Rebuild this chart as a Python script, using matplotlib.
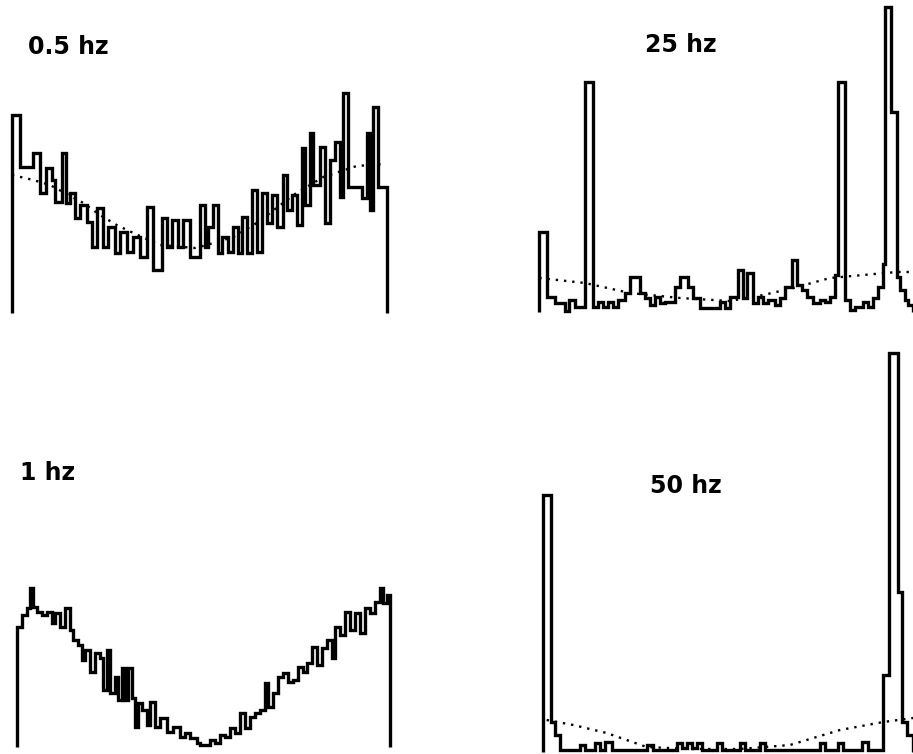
import numpy as np
import matplotlib
matplotlib.use("Agg")
from matplotlib import pyplot as plt

# bin edges (channel) and counts
edges_05 = [36, 60, 100, 120, 138, 155, 165, 185, 198, 210, 225, 240, 260, 275, 290, 310, 325,
            345, 360, 380, 400, 420, 440, 460, 485, 500, 515, 535, 550, 570, 600, 615, 625, 640,
            655, 665, 685, 700, 715, 725, 740, 755, 770, 785, 800, 815, 830, 850, 860, 875, 890,
            905, 915, 930, 940, 960, 975, 990, 1005, 1020, 1030, 1045, 1085, 1100, 1110, 1120,
            1135, 1160]
counts_05 = [198, 146, 160, 120, 145, 133, 111, 160, 110, 120, 95, 108, 91, 66, 105, 66, 86, 60,
             81, 61, 76, 56, 106, 43, 95, 66, 93, 66, 93, 56, 108, 66, 86, 108, 60, 76, 61, 86,
             60, 96, 60, 123, 61, 120, 90, 118, 86, 138, 103, 118, 88, 165, 108, 180, 128, 166,
             90, 153, 171, 116, 220, 126, 115, 180, 103, 206, 126]
fit_x_05 = [36, 100, 150, 250, 300, 350, 400, 480, 585, 620, 700, 775, 880, 970, 1070, 1155]
fit_y_05 = [138, 133, 128, 110, 98, 88, 80, 68, 65, 68, 76, 91, 118, 136, 147, 149]

edges_25 = [28, 50, 75, 105, 118, 135, 165, 190, 205, 220, 235, 250, 265, 285, 300, 330, 345,
            360, 375, 390, 405, 435, 450, 475, 490, 510, 570, 585, 600, 625, 638, 650, 668, 685,
            700, 715, 735, 750, 765, 785, 800, 815, 830, 850, 870, 885, 900, 915, 925, 945, 960,
            975, 1000, 1015, 1030, 1045, 1060, 1065, 1082, 1100, 1110, 1125, 1135, 1149]
counts_25 = [80, 15, 9, 1, 12, 5, 230, 5, 10, 5, 10, 5, 12, 19, 35, 19, 14, 7, 15, 9, 10, 25, 35,
             25, 14, 4, 10, 4, 15, 42, 14, 39, 9, 15, 9, 12, 7, 14, 25, 52, 27, 22, 15, 9, 12, 10,
             15, 37, 230, 12, 2, 5, 10, 5, 14, 25, 48, 305, 200, 35, 22, 12, 7]
fit_x_25 = [28, 165, 300, 450, 600, 700, 790, 900, 1000, 1100, 1149]
fit_y_25 = [34, 29, 19, 14, 11, 17, 24, 34, 37, 40, 40]

edges_1 = [50, 65, 80, 90, 100, 110, 125, 140, 155, 165, 180, 195, 210, 220, 235, 245, 255, 270,
           285, 300, 310, 320, 330, 345, 355, 365, 375, 385, 395, 405, 415, 425, 440, 450, 465,
           480, 500, 520, 540, 555, 570, 590, 600, 630, 645, 660, 675, 690, 705, 720, 735, 750,
           765, 780, 795, 805, 820, 835, 850, 865, 880, 895, 910, 920, 935, 950, 965, 980, 995,
           1005, 1020, 1035, 1050, 1065, 1080, 1095, 1110, 1125, 1140, 1150, 1160, 1170]
counts_1 = [120, 132, 139, 159, 140, 135, 132, 135, 124, 134, 120, 139, 117, 107, 102, 87, 97, 75,
            94, 89, 57, 97, 54, 70, 47, 79, 47, 79, 49, 20, 44, 37, 22, 45, 20, 29, 15, 20, 10, 14,
            9, 4, 2, 7, 4, 12, 10, 19, 14, 34, 19, 30, 34, 37, 64, 40, 54, 70, 74, 65, 67, 80, 75,
            84, 100, 82, 99, 107, 89, 120, 112, 135, 117, 134, 114, 139, 134, 145, 159, 144, 152]

edges_50 = [10, 32, 45, 60, 120, 135, 165, 180, 195, 215, 320, 340, 410, 425, 440, 455, 470, 485,
            530, 545, 600, 615, 660, 675, 840, 855, 895, 910, 965, 985, 1030, 1048, 1075, 1085,
            1100, 1119]
counts_50 = [257, 30, 17, 2, 7, 2, 9, 2, 10, 2, 7, 2, 9, 4, 9, 4, 9, 2, 9, 2, 9, 2, 9, 2, 9, 2, 9,
             2, 10, 2, 77, 399, 160, 30, 17]
fit_x_50 = [20, 100, 200, 320, 450, 600, 750, 900, 1030, 1119]
fit_y_50 = [32, 27, 19, 5, 3, 3, 7, 22, 30, 34]

W, H = 913, 754
fig = plt.figure(figsize=(W / 100, H / 100), dpi=100)

def panel(left, right, bottom, top, edges, counts, fx=None, fy=None):
    # positions in pixels of the original scan
    ax = fig.add_axes([left / W, 1 - bottom / H, (right - left) / W, (bottom - top) / H])
    ax.stairs(counts, edges, baseline=0, color="black", lw=2.4, clip_on=False)
    if fx is not None:
        ax.plot(fx, fy, color="black", lw=1.7, linestyle=(0, (1, 2.5)), clip_on=False)
    ax.set_xlim(edges[0], edges[-1])
    ax.set_ylim(0, bottom - top)
    ax.axis("off")
    return ax

panel(12, 386.7, 313, 80, edges_05, counts_05, fit_x_05, fit_y_05)
panel(539.3, 913, 312, 0, edges_25, counts_25, fit_x_25, fit_y_25)
panel(16.7, 390, 747, 560, edges_1, counts_1)
panel(543.3, 913, 752, 330, edges_50, counts_50, fit_x_50, fit_y_50)

lab = dict(fontsize=17, fontweight="bold", family="DejaVu Sans", ha="left", va="center")
fig.text(28 / W, 1 - 47 / H, "0.5 hz", **lab)
fig.text(645 / W, 1 - 45 / H, "25 hz", **lab)
fig.text(20 / W, 1 - 473 / H, "1 hz", **lab)
fig.text(650 / W, 1 - 486 / H, "50 hz", **lab)

fig.savefig("out.png", dpi=100, facecolor="white")
